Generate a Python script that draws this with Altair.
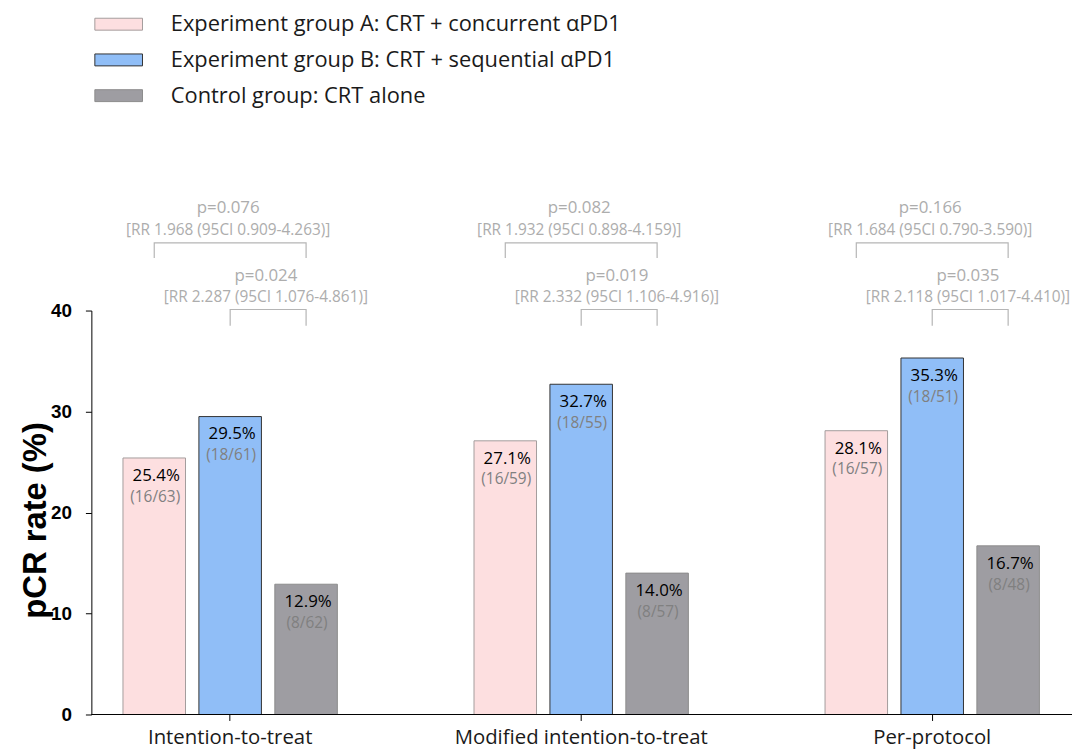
import altair as alt
import pandas as pd

# ---------------- data ----------------
groups = ["Intention-to-treat", "Modified intention-to-treat", "Per-protocol"]
arms = [
    "Experiment group A: CRT + concurrent αPD1",
    "Experiment group B: CRT + sequential αPD1",
    "Control group: CRT alone",
]
rate_a = [25.4, 27.1, 28.1]
rate_b = [29.5, 32.7, 35.3]
rate_c = [12.9, 14.0, 16.7]
pcr_a = [16, 16, 16]
total_a = [63, 59, 57]
pcr_b = [18, 18, 18]
total_b = [61, 55, 51]
pcr_c = [8, 8, 8]
total_c = [62, 57, 48]

p_ac = ["p=0.076", "p=0.082", "p=0.166"]
rr_ac = ["[RR 1.968 (95CI 0.909-4.263)]", "[RR 1.932 (95CI 0.898-4.159)]", "[RR 1.684 (95CI 0.790-3.590)]"]
p_bc = ["p=0.024", "p=0.019", "p=0.035"]
rr_bc = ["[RR 2.287 (95CI 1.076-4.861)]", "[RR 2.332 (95CI 1.106-4.916)]", "[RR 2.118 (95CI 1.017-4.410)]"]

# bracket heights (in y-axis units, above the 0-40 axis)
UPPER_TOP, UPPER_LEG = 46.7, 45.2
LOWER_TOP, LOWER_LEG = 40.1, 38.5
UPPER_P, UPPER_RR = 50.1, 47.95
LOWER_P, LOWER_RR = 43.45, 41.3

fills = ["#FDDFE0", "#90BEF7", "#9E9DA2"]
strokes = ["#A39C9C", "#333333", "#8C8C8C"]

# ---------------- tables ----------------
rows = []
for i, g in enumerate(groups):
    for arm, r, p, t in zip(arms, [rate_a, rate_b, rate_c], [pcr_a, pcr_b, pcr_c], [total_a, total_b, total_c]):
        rows.append(dict(group=g, arm=arm, rate=r[i], pct=f"{r[i]:.1f}%", frac=f"({p[i]}/{t[i]})"))
bars_df = pd.DataFrame(rows)

line_rows = []
for i, g in enumerate(groups):
    for bid, a0, top, leg in [("AC", arms[0], UPPER_TOP, UPPER_LEG), ("BC", arms[1], LOWER_TOP, LOWER_LEG)]:
        pts = [(a0, leg), (a0, top), (arms[2], top), (arms[2], leg)]
        for k, (a, y) in enumerate(pts):
            line_rows.append(dict(group=g, arm=a, rate=y, bid=f"{g}-{bid}", pt=k))
lines_df = pd.DataFrame(line_rows)

upper_p_rows, upper_rr_rows, lower_p_rows, lower_rr_rows = [], [], [], []
for i, g in enumerate(groups):
    upper_p_rows.append(dict(group=g, arm=arms[1], rate=UPPER_P, txt=p_ac[i]))
    upper_rr_rows.append(dict(group=g, arm=arms[1], rate=UPPER_RR, txt=rr_ac[i]))
    lower_p_rows.append(dict(group=g, arm=arms[1], rate=LOWER_P, txt=p_bc[i]))
    lower_rr_rows.append(dict(group=g, arm=arms[1], rate=LOWER_RR, txt=rr_bc[i]))

# ---------------- scales / axes ----------------
W, H = 988, 407
x_scale = alt.Scale(domain=groups, range=[-37, 1024], paddingInner=0, paddingOuter=0)
xo_scale = alt.Scale(domain=arms, paddingInner=0.1765, paddingOuter=0.9)
y_scale = alt.Scale(domain=[0, 40], nice=False, zero=True)

x_axis = alt.Axis(title=None, domain=False, ticks=True, tickColor="black", tickSize=6,
                  labelFont="Open Sans", labelFontSize=20.5, labelColor="#1a1a1a",
                  labelPadding=7, labelAngle=0, bandPosition=0.5, labelLimit=400, grid=False)
y_axis = alt.Axis(values=[0, 10, 20, 30, 40], grid=False, domainColor="black", tickColor="black",
                  tickSize=6, labelFont="Liberation Sans", labelFontWeight="bold", labelFontSize=19,
                  labelColor="black", labelPadding=14, title="pCR rate (%)",
                  titleFont="Liberation Sans", titleFontWeight="bold", titleFontSize=33,
                  titleColor="black", titleX=-39, titleY=211, titleAlign="center",
                  titleBaseline="bottom", titleAngle=270)

X = alt.X("group:N", scale=x_scale, axis=x_axis, sort=groups)
XO = alt.XOffset("arm:N", scale=xo_scale, sort=arms)
Y = alt.Y("rate:Q", scale=y_scale, axis=y_axis)

legend = alt.Legend(title=None, orient="none", legendX=3, legendY=-313,
                    symbolType="M-1,-0.25H1V0.25H-1Z", symbolSize=2304, symbolStrokeWidth=1,
                    labelFont="Open Sans", labelFontSize=22, labelColor="#1a1a1a",
                    labelOffset=28, rowPadding=-5, labelLimit=800, padding=0, symbolOpacity=1)

bars = alt.Chart(bars_df).mark_bar(strokeWidth=1).encode(
    x=X, xOffset=XO, y=Y,
    fill=alt.Fill("arm:N", scale=alt.Scale(domain=arms, range=fills), legend=legend, sort=arms),
    stroke=alt.Stroke("arm:N", scale=alt.Scale(domain=arms, range=strokes), legend=legend, sort=arms),
)

pct = alt.Chart(bars_df).mark_text(font="Open Sans", fontSize=17, color="black",
                                   baseline="middle", dy=18, dx=2).encode(
    x=X, xOffset=XO, y=Y, text="pct:N")
frac = alt.Chart(bars_df).mark_text(font="Open Sans", fontSize=15.5, color="#808080",
                                    baseline="middle", dy=39, dx=1).encode(
    x=X, xOffset=XO, y=Y, text="frac:N")

brackets = alt.Chart(lines_df).mark_line(color="#B5B5B5", strokeWidth=1.2).encode(
    x=X, xOffset=XO, y=Y, detail="bid:N", order="pt:O")

def note(rows_, size, dx):
    return alt.Chart(pd.DataFrame(rows_)).mark_text(
        font="Open Sans", fontSize=size, color="#ADADAD", baseline="middle", dx=dx
    ).encode(x=X, xOffset=XO, y=Y, text="txt:N")

upper_p = note(upper_p_rows, 17, -2)
upper_rr = note(upper_rr_rows, 15.5, -2)
lower_p = note(lower_p_rows, 17, 36)
lower_rr = note(lower_rr_rows, 15.5, 36)

baseline = alt.Chart(pd.DataFrame({"rate": [0]})).mark_rule(color="black", strokeWidth=1).encode(
    y=Y, x=alt.value(0), x2=alt.value(W))

chart = alt.layer(bars, baseline, pct, frac, brackets, upper_p, upper_rr, lower_p, lower_rr).properties(
    width=W, height=H, autosize="none",
    padding={"left": 84, "top": 302, "right": 0, "bottom": 39},
).configure_view(stroke=None)

chart.save("out.html", embed_options={"renderer": "svg", "actions": False})
